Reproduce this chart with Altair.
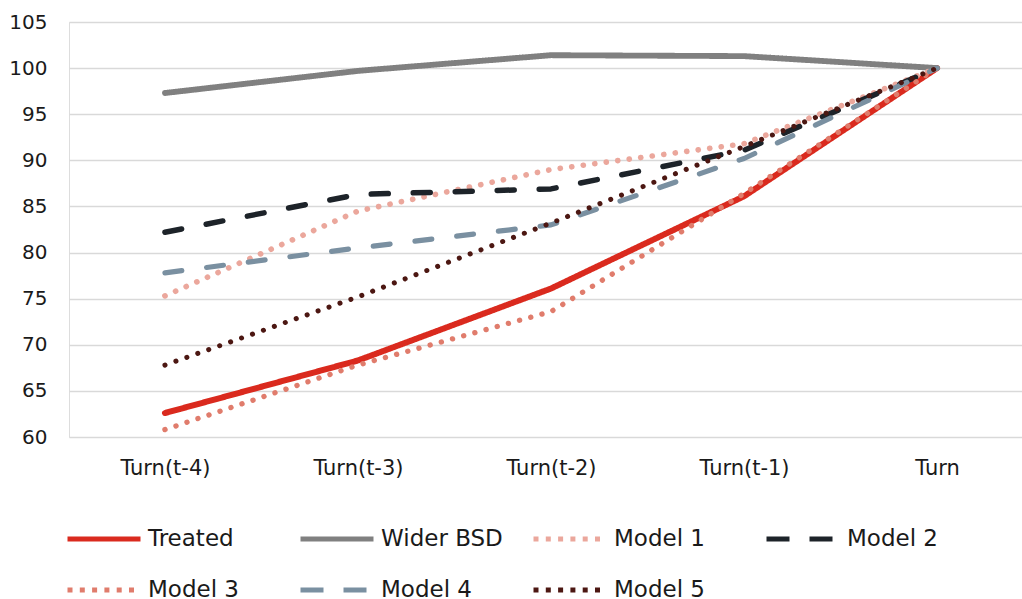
import altair as alt
import pandas as pd

categories = ["Turn(t-4)", "Turn(t-3)", "Turn(t-2)", "Turn(t-1)", "Turn"]
series_names = ["Treated", "Wider BSD", "Model 1", "Model 2", "Model 3", "Model 4", "Model 5"]
treated = [62.6, 68.3, 76.1, 86.1, 100]
wider_bsd = [97.3, 99.7, 101.4, 101.3, 100]
model1 = [75.3, 84.5, 89.0, 91.8, 100]
model2 = [82.2, 86.3, 86.9, 91.1, 100]
model3 = [60.8, 67.8, 73.6, 86.4, 100]
model4 = [77.8, 80.5, 83.0, 90.2, 100]
model5 = [67.8, 75.2, 83.2, 91.5, 100]
colors = ["#DA2A1E", "#808080", "#EBA79C", "#1D2329", "#E07C6C", "#7A90A1", "#4C1712"]
line_dashes = [[1, 0], [1, 0], [0.1, 11.5], [17, 25], [0.1, 11.5], [17, 25], [0.1, 11.5]]
legend_dashes = [[1, 0], [1, 0], [5, 7.3], [23, 20], [5, 7.3], [23, 20], [5, 7.3]]
widths = [6, 5, 5, 5, 5, 5, 5]
y_ticks = [60, 65, 70, 75, 80, 85, 90, 95, 100, 105]

all_values = [treated, wider_bsd, model1, model2, model3, model4, model5]
rows = []
for s, vals in zip(series_names, all_values):
    for i, v in enumerate(vals):
        rows.append({"series": s, "series_key": s, "idx": i, "value": v})
df = pd.DataFrame(rows)

label_expr = "[" + ",".join("'" + c + "'" for c in categories) + "][datum.value]"

FONT = "DejaVu Sans"

x_enc = alt.X("idx:Q", scale=alt.Scale(domain=[-0.497, 4.44], nice=False, zero=False),
              axis=alt.Axis(values=[0, 1, 2, 3, 4], labelExpr=label_expr, title=None,
                            grid=False, domain=False, ticks=False, labelPadding=20,
                            labelFontSize=21, labelColor="#1a1a1a", labelFont=FONT))
y_enc = alt.Y("value:Q", scale=alt.Scale(domain=[60, 105], nice=False, zero=False),
              axis=alt.Axis(values=y_ticks, title=None, domain=False, ticks=False,
                            labelPadding=22, labelFontSize=20, labelColor="#1a1a1a",
                            labelFont=FONT, gridColor="#d9d9d9", gridWidth=1.5))

lines = alt.Chart(df).mark_line(strokeCap="round", strokeJoin="round").encode(
    x=x_enc,
    y=y_enc,
    color=alt.Color("series:N", scale=alt.Scale(domain=series_names, range=colors), legend=None),
    strokeDash=alt.StrokeDash("series:N", scale=alt.Scale(domain=series_names, range=line_dashes), legend=None),
    strokeWidth=alt.StrokeWidth("series:N", scale=alt.Scale(domain=series_names, range=widths), legend=None),
    order=alt.Order("idx:Q"),
)

legend_cfg = alt.Legend(orient="none", legendX=-4, legendY=478, columns=4,
                        direction="horizontal", symbolType="stroke", gridAlign="all",
                        symbolSize=5329, symbolStrokeWidth=5,
                        labelFontSize=23, labelFont=FONT, labelColor="#1a1a1a",
                        labelOffset=5, columnPadding=20, rowPadding=0,
                        padding=0, labelLimit=300)

legend_layer = alt.Chart(df).transform_filter("false").mark_line(strokeCap="butt").encode(
    x=alt.X("idx:Q"),
    y=alt.Y("value:Q"),
    color=alt.Color("series_key:N", scale=alt.Scale(domain=series_names, range=colors), title=None,
                    legend=legend_cfg),
    strokeDash=alt.StrokeDash("series_key:N", scale=alt.Scale(domain=series_names, range=legend_dashes),
                              title=None),
)

chart = alt.layer(lines, legend_layer).resolve_scale(
    color="independent", strokeDash="independent", strokeWidth="independent"
).properties(
    width=953, height=415,
    autosize=alt.AutoSizeParams(type="none"),
    padding={"left": 69, "top": 22, "right": 0, "bottom": 162},
).configure_view(stroke=None).configure(background="white")

chart.save("out.html", embed_options={"renderer": "svg", "actions": False})
